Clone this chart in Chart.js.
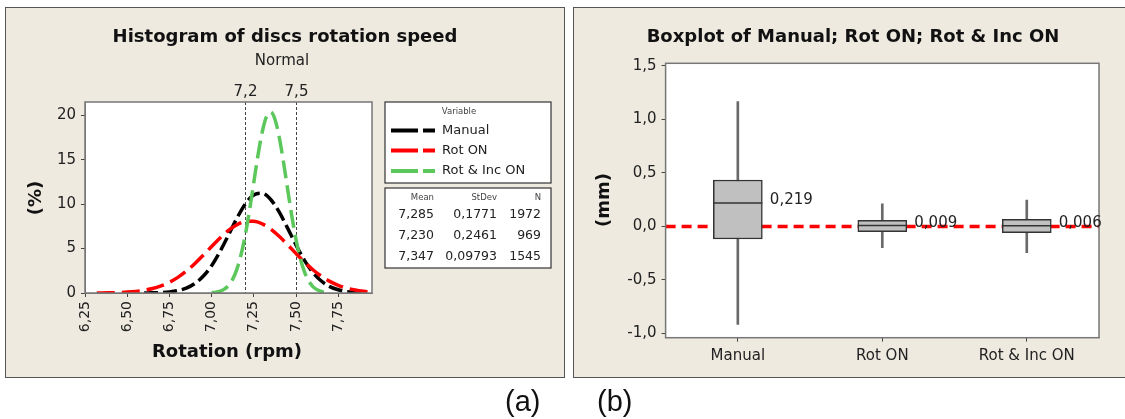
<!DOCTYPE html>
<html>
<head>
<meta charset="utf-8">
<title>Discs rotation speed</title>
<script src="https://cdn.jsdelivr.net/npm/chart.js@4.4.1/dist/chart.umd.min.js"></script>
<style>
  html, body { margin: 0; padding: 0; background: #fff; }
  body { position: relative; width: 1125px; height: 419px; overflow: hidden; }
  .panel { position: absolute; background: #eeeae0; border: 1px solid #555; box-sizing: border-box; }
  #panelA { left: 5px; top: 7px; width: 560px; height: 371px; }
  #panelB { left: 573px; top: 7px; width: 600px; height: 371px; }
  canvas { position: absolute; left: 0; top: 0; }
</style>
</head>
<body>
<div class="panel" id="panelA"></div>
<div class="panel" id="panelB"></div>
<canvas id="histChart" width="1125" height="419"></canvas>
<canvas id="boxChart" width="1125" height="419"></canvas>

<script>
// ---------- (a) fitted normal curves ----------
const seriesNames = ['Manual', 'Rot ON', 'Rot & Inc ON'];

const manualX = [6.60, 6.65, 6.70, 6.75, 6.80, 6.85, 6.90, 6.95, 7.00, 7.05, 7.10, 7.15, 7.20, 7.25,
                 7.30, 7.35, 7.40, 7.45, 7.50, 7.55, 7.60, 7.65, 7.70, 7.75, 7.80, 7.85, 7.90];
const manualY = [0.01, 0.02, 0.05, 0.12, 0.27, 0.55, 1.06, 1.88, 3.08, 4.67, 6.52, 8.42, 10.04, 11.04,
                 11.22, 10.53, 9.12, 7.30, 5.39, 3.68, 2.31, 1.35, 0.72, 0.36, 0.16, 0.07, 0.03];

const rotOnX = [6.32, 6.35, 6.40, 6.45, 6.50, 6.55, 6.60, 6.65, 6.70, 6.75, 6.80, 6.85, 6.90, 6.95,
                7.00, 7.05, 7.10, 7.15, 7.20, 7.25, 7.30, 7.35, 7.40, 7.45, 7.50, 7.55, 7.60, 7.65,
                7.70, 7.75, 7.80, 7.85, 7.90, 7.95];
const rotOnY = [0.01, 0.01, 0.03, 0.05, 0.10, 0.18, 0.31, 0.50, 0.80, 1.21, 1.76, 2.46, 3.30, 4.24,
                5.24, 6.20, 7.05, 7.69, 8.05, 8.08, 7.78, 7.20, 6.38, 5.44, 4.44, 3.48, 2.62, 1.89,
                1.31, 0.87, 0.55, 0.34, 0.20, 0.11];

const rotIncX = [7.000, 7.025, 7.050, 7.075, 7.100, 7.125, 7.150, 7.175, 7.200, 7.225, 7.250, 7.275,
                 7.300, 7.325, 7.350, 7.375, 7.400, 7.425, 7.450, 7.475, 7.500, 7.525, 7.550, 7.575,
                 7.600, 7.625, 7.650, 7.675, 7.700];
const rotIncY = [0.04, 0.09, 0.20, 0.43, 0.85, 1.56, 2.69, 4.36, 6.60, 9.37, 12.47, 15.55,
                 18.15, 19.86, 20.36, 19.56, 17.59, 14.83, 11.72, 8.67, 6.01, 3.90, 2.38, 1.35,
                 0.72, 0.36, 0.17, 0.07, 0.03];

const rotationTicks = [6.25, 6.50, 6.75, 7.00, 7.25, 7.50, 7.75];
const percentTicks = [0, 5, 10, 15, 20];
const specLines = [7.2, 7.5];

const statMeans = ['7,285', '7,230', '7,347'];
const statStDevs = ['0,1771', '0,2461', '0,09793'];
const statN = ['1972', '969', '1545'];

// ---------- (b) boxplot values ----------
const groups = ['Manual', 'Rot ON', 'Rot & Inc ON'];
const whiskerLow = [-0.916, -0.199, -0.246];
const q1 = [-0.118, -0.050, -0.059];
const medians = [0.219, 0.009, 0.006];
const q3 = [0.434, 0.057, 0.066];
const whiskerHigh = [1.166, 0.210, 0.247];
const mmTicks = [-1.0, -0.5, 0.0, 0.5, 1.0, 1.5];
const zeroRef = 0;

const FONT = '"DejaVu Sans", Verdana, sans-serif';
Chart.defaults.font.family = FONT;
const TXT = '#222';

const fmtComma = (v, d) => v.toFixed(d).replace('.', ',');

function curve(label, xs, ys, color, dash, order) {
  return {
    label,
    data: xs.map((x, i) => ({ x, y: ys[i] })),
    borderColor: color,
    borderWidth: 3.5,
    borderDash: dash,
    pointRadius: 0,
    fill: false,
    cubicInterpolationMode: 'monotone',
    order
  };
}

const curveColors = ['#000000', '#ff0000', '#5cc85c'];

// decorations for the histogram panel
const histDecor = {
  id: 'histDecor',
  beforeDraw(chart) {
    const { ctx, chartArea: a } = chart;
    ctx.save();
    ctx.fillStyle = '#ffffff';
    ctx.fillRect(a.left, a.top, a.right - a.left, a.bottom - a.top);
    ctx.restore();
  },
  beforeDatasetsDraw(chart) {
    const { ctx, chartArea: a, scales: { x } } = chart;
    ctx.save();
    ctx.strokeStyle = '#444';
    ctx.lineWidth = 1;
    ctx.setLineDash([3, 2]);
    ctx.fillStyle = TXT;
    ctx.font = '15px ' + FONT;
    ctx.textAlign = 'center';
    ctx.textBaseline = 'middle';
    specLines.forEach(v => {
      const px = Math.round(x.getPixelForValue(v)) + 0.5;
      ctx.beginPath();
      ctx.moveTo(px, a.top);
      ctx.lineTo(px, a.bottom);
      ctx.stroke();
      ctx.fillText(fmtComma(v, 1), px, 92);
    });
    ctx.restore();
  },
  afterDraw(chart) {
    const { ctx, chartArea: a } = chart;
    ctx.save();
    // plot frame
    ctx.strokeStyle = '#777';
    ctx.lineWidth = 1.5;
    ctx.strokeRect(a.left, a.top, a.right - a.left, a.bottom - a.top);

    ctx.fillStyle = '#111';
    ctx.textAlign = 'center';
    ctx.textBaseline = 'middle';
    ctx.font = 'bold 18px ' + FONT;
    ctx.fillText('Histogram of discs rotation speed', 285, 37);
    ctx.fillText('Rotation (rpm)', 227, 352);
    ctx.save();
    ctx.translate(36, 198);
    ctx.rotate(-Math.PI / 2);
    ctx.fillText('(%)', 0, 0);
    ctx.restore();
    ctx.font = '15px ' + FONT;
    ctx.fillStyle = TXT;
    ctx.fillText('Normal', 282, 61);

    // legend box
    ctx.fillStyle = '#fff';
    ctx.strokeStyle = '#333';
    ctx.lineWidth = 1.2;
    ctx.fillRect(385, 102, 166, 81);
    ctx.strokeRect(385, 102, 166, 81);
    ctx.fillRect(385, 188, 166, 80);
    ctx.strokeRect(385, 188, 166, 80);

    ctx.fillStyle = '#444';
    ctx.font = '8.5px ' + FONT;
    ctx.fillText('Variable', 459, 112);

    const rowsY = [130.5, 150.5, 171];
    seriesNames.forEach((name, i) => {
      ctx.strokeStyle = curveColors[i];
      ctx.lineWidth = 4;
      ctx.setLineDash([27, 5]);
      ctx.beginPath();
      ctx.moveTo(391, rowsY[i]);
      ctx.lineTo(435, rowsY[i]);
      ctx.stroke();
      ctx.setLineDash([]);
      ctx.fillStyle = TXT;
      ctx.font = '13px ' + FONT;
      ctx.textAlign = 'left';
      ctx.fillText(name, 442, rowsY[i]);
    });

    // stats table
    const colsX = [434, 497, 541];
    ctx.textAlign = 'right';
    ctx.fillStyle = '#444';
    ctx.font = '8.5px ' + FONT;
    ['Mean', 'StDev', 'N'].forEach((h, j) => ctx.fillText(h, colsX[j], 198));
    ctx.fillStyle = TXT;
    ctx.font = '12.5px ' + FONT;
    const statY = [215, 235.7, 256.3];
    statMeans.forEach((m, i) => {
      ctx.fillText(m, colsX[0], statY[i]);
      ctx.fillText(statStDevs[i], colsX[1], statY[i]);
      ctx.fillText(statN[i], colsX[2], statY[i]);
    });
    ctx.restore();
  }
};

new Chart(document.getElementById('histChart'), {
  type: 'line',
  data: {
    datasets: [
      curve(seriesNames[0], manualX, manualY, curveColors[0], [14, 5], 3),
      curve(seriesNames[1], rotOnX, rotOnY, curveColors[1], [18, 7], 2),
      curve(seriesNames[2], rotIncX, rotIncY, curveColors[2], [18, 7], 1)
    ]
  },
  options: {
    responsive: false,
    animation: false,
    events: [],
    layout: { padding: { left: 5, top: 102, right: 753, bottom: 0 } },
    plugins: { legend: { display: false }, tooltip: { enabled: false } },
    scales: {
      x: {
        type: 'linear',
        min: 6.25,
        max: 7.95,
        afterBuildTicks: s => { s.ticks = rotationTicks.map(v => ({ value: v })); },
        afterFit: s => { s.height = 126; },
        ticks: {
          autoSkip: false, minRotation: 90, maxRotation: 90, padding: 4,
          color: TXT, font: { size: 14 },
          callback: v => fmtComma(v, 2)
        },
        grid: { drawOnChartArea: false, drawTicks: true, tickLength: 4, color: '#444' },
        border: { color: '#777' }
      },
      y: {
        min: 0,
        max: 21.5,
        afterBuildTicks: s => { s.ticks = percentTicks.map(v => ({ value: v })); },
        afterFit: s => { s.width = 80; },
        ticks: { padding: 5, color: TXT, font: { size: 15 } },
        grid: { drawOnChartArea: false, drawTicks: true, tickLength: 4, color: '#444' },
        border: { color: '#777' }
      }
    }
  },
  plugins: [histDecor]
});

// decorations for the boxplot panel
const boxDecor = {
  id: 'boxDecor',
  beforeDraw(chart) {
    const { ctx, chartArea: a } = chart;
    ctx.save();
    ctx.fillStyle = '#ffffff';
    ctx.fillRect(a.left, a.top, a.right - a.left, a.bottom - a.top);
    ctx.restore();
  },
  beforeDatasetsDraw(chart) {
    const { ctx, chartArea: a, scales: { y } } = chart;
    const py = y.getPixelForValue(zeroRef);
    ctx.save();
    ctx.strokeStyle = '#ff0000';
    ctx.lineWidth = 3.5;
    ctx.setLineDash([10, 6]);
    ctx.beginPath();
    ctx.moveTo(a.left, py);
    ctx.lineTo(a.right, py);
    ctx.stroke();
    ctx.restore();
  },
  afterDraw(chart) {
    const { ctx, chartArea: a, scales: { x, y } } = chart;
    ctx.save();
    ctx.strokeStyle = '#777';
    ctx.lineWidth = 1.5;
    ctx.strokeRect(a.left, a.top, a.right - a.left, a.bottom - a.top);

    ctx.fillStyle = '#111';
    ctx.textAlign = 'center';
    ctx.textBaseline = 'middle';
    ctx.font = 'bold 18px ' + FONT;
    ctx.fillText('Boxplot of Manual; Rot ON; Rot & Inc ON', 853, 37);
    ctx.save();
    ctx.translate(604, 200);
    ctx.rotate(-Math.PI / 2);
    ctx.fillText('(mm)', 0, 0);
    ctx.restore();

    // median labels
    ctx.fillStyle = TXT;
    ctx.font = '15px ' + FONT;
    ctx.textAlign = 'left';
    medians.forEach((m, i) => {
      const px = x.getPixelForValue(i) + 24.5 + 7.5;
      const py = y.getPixelForValue(m) - 2.5;
      ctx.fillText(fmtComma(m, 3), px, py);
    });

    // sub-figure captions
    ctx.fillStyle = '#111';
    ctx.font = '29px "Liberation Sans", Arial, sans-serif';
    ctx.textBaseline = 'alphabetic';
    ctx.fillText('(a)', 505, 411);
    ctx.fillText('(b)', 597, 411);
    ctx.restore();
  }
};

new Chart(document.getElementById('boxChart'), {
  type: 'bar',
  data: {
    labels: groups,
    datasets: [
      {
        label: 'whiskers',
        data: groups.map((g, i) => [whiskerLow[i], whiskerHigh[i]]),
        backgroundColor: '#6a6a6a',
        barThickness: 2,
        grouped: false,
        order: 3
      },
      {
        label: 'box',
        data: groups.map((g, i) => [q1[i], q3[i]]),
        backgroundColor: '#c0c0c0',
        borderColor: '#333',
        borderWidth: 1.5,
        borderSkipped: false,
        barThickness: 49,
        grouped: false,
        order: 2
      },
      {
        type: 'line',
        label: 'median',
        data: medians,
        showLine: false,
        pointStyle: 'line',
        pointRadius: 24.5,
        pointBorderWidth: 1.5,
        pointBorderColor: '#333',
        order: 1
      }
    ]
  },
  options: {
    responsive: false,
    animation: false,
    events: [],
    layout: { padding: { left: 573, top: 63.3, right: 19.3, bottom: 0 } },
    plugins: { legend: { display: false }, tooltip: { enabled: false } },
    scales: {
      x: {
        type: 'category',
        offset: true,
        afterFit: s => { s.height = 81.3; },
        ticks: { padding: 5, color: TXT, font: { size: 15 } },
        grid: { offset: false, drawOnChartArea: false, drawTicks: true, tickLength: 4, color: '#444' },
        border: { color: '#777' }
      },
      y: {
        min: -1.041,
        max: 1.525,
        afterBuildTicks: s => { s.ticks = mmTicks.map(v => ({ value: v })); },
        afterFit: s => { s.width = 92.6; },
        ticks: { padding: 5, color: TXT, font: { size: 15 }, callback: v => fmtComma(v, 1) },
        grid: { drawOnChartArea: false, drawTicks: true, tickLength: 4, color: '#444' },
        border: { color: '#777' }
      }
    }
  },
  plugins: [boxDecor]
});
</script>
</body>
</html>
